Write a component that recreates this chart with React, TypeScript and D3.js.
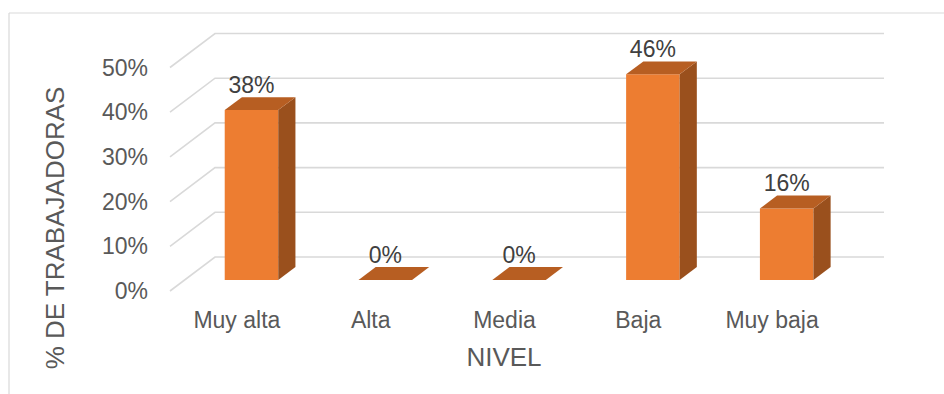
import React from "react";
import * as d3 from "d3";

const categories = ["Muy alta", "Alta", "Media", "Baja", "Muy baja"];
const values = [38, 0, 0, 46, 16];
const yTicks = [0, 10, 20, 30, 40, 50];
const yTitle = "% DE TRABAJADORAS";
const xTitle = "NIVEL";

const W = 944;
const H = 394;

export default function App() {
  // front plane geometry
  const x0 = 170;
  const y0 = 291;
  const depthDX = 45;
  const depthDY = -34;
  const x = d3.scaleBand<string>().domain(categories).range([x0, x0 + 669]);
  const y = d3.scaleLinear().domain([0, 50]).range([0, 223.5]);
  const proj = (px: number, v: number, z: number): [number, number] => [
    px + depthDX * z,
    y0 - y(v) + depthDY * z,
  ];
  const zF = 0.324;
  const zB = 0.706;
  const bw = x.bandwidth() * 0.4;
  const font = "'Liberation Sans', Arial, sans-serif";
  const pts = (a: [number, number][]) => a.map((p) => p.join(",")).join(" ");

  return (
    <svg
      width={W}
      height={H}
      style={{ position: "absolute", left: 0, top: 0 }}
      fontFamily={font}
    >
      <rect x={0} y={0} width={W} height={H} fill="#fff" />
      <line x1={9} y1={13} x2={W} y2={13} stroke="#D9D9D9" strokeWidth={1.2} />
      <line x1={9} y1={13} x2={9} y2={H} stroke="#D9D9D9" strokeWidth={1.2} />
      {yTicks.map((t) => {
        const a = proj(x0, t, 0);
        const b = proj(x0, t, 1);
        const c = proj(x0 + 669, t, 1);
        return (
          <g key={t}>
            <polyline
              points={pts([a, b, c])}
              fill="none"
              stroke="#D9D9D9"
              strokeWidth={1.6}
            />
            <text
              x={148}
              y={a[1]}
              dy="0.35em"
              textAnchor="end"
              fontSize={23}
              fill="#595959"
            >
              {t}%
            </text>
          </g>
        );
      })}
      {categories.map((c, i) => {
        const v = values[i];
        const cx = (x(c) as number) + x.bandwidth() / 2;
        const l = cx - bw / 2;
        const r = cx + bw / 2;
        const fBL = proj(l, 0, zF);
        const fBR = proj(r, 0, zF);
        const fTL = proj(l, v, zF);
        const fTR = proj(r, v, zF);
        const bTL = proj(l, v, zB);
        const bTR = proj(r, v, zB);
        const bBR = proj(r, 0, zB);
        return (
          <g key={c}>
            {v > 0 && (
              <>
                <polygon points={pts([fBL, fBR, fTR, fTL])} fill="#ED7D31" />
                <polygon points={pts([fBR, bBR, bTR, fTR])} fill="#9A501D" />
              </>
            )}
            <polygon points={pts([fTL, fTR, bTR, bTL])} fill="#B75E22" />
            <text
              x={(fTL[0] + fTR[0]) / 2}
              y={bTL[1] - 4}
              textAnchor="middle"
              fontSize={23}
              fill="#404040"
            >
              {v}%
            </text>
            <text
              x={cx}
              y={320}
              dy="0.35em"
              textAnchor="middle"
              fontSize={23}
              fill="#595959"
            >
              {c}
            </text>
          </g>
        );
      })}
      <text
        x={504}
        y={357}
        dy="0.35em"
        textAnchor="middle"
        fontSize={26}
        fill="#595959"
      >
        {xTitle}
      </text>
      <text
        transform="translate(55,228) rotate(-90)"
        dy="0.35em"
        textAnchor="middle"
        fontSize={26}
        fill="#595959"
      >
        {yTitle}
      </text>
    </svg>
  );
}
